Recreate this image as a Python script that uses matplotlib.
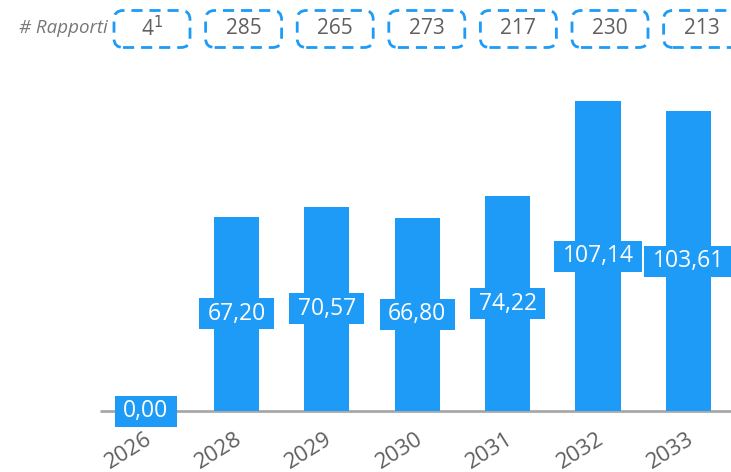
import numpy as np
import matplotlib.pyplot as plt
from matplotlib.patches import FancyBboxPatch, Rectangle

plt.rcParams['font.family'] = ['Open Sans', 'DejaVu Sans']

# values per year, in the same order as the bars
anni = ['2026', '2028', '2029', '2030', '2031', '2032', '2033']
valori = [0.00, 67.20, 70.57, 66.80, 74.22, 107.14, 103.61]
rapporti = ['4$^1$', '285', '265', '273', '217', '230', '213']

BLU = '#1d9bf6'
GRIGIO = '#5f5f5f'


def etichetta(v):
    return f'{v:.2f}'.replace('.', ',')


def main():
    fig = plt.figure(figsize=(7.31, 4.72), dpi=100)
    ax = fig.add_axes([0, 0, 1, 1])
    ax.axis('off')

    # pixel scale: 90.4 px between bars, 2.893 px per unit on y
    px_x = 90.4
    px_y = 2.893
    ax.set_xlim(-146 / px_x, (731 - 146) / px_x)
    ax.set_ylim(-61 / px_y, (472 - 61) / px_y)

    x = np.arange(len(anni))
    ax.bar(x, valori, width=0.5, color=BLU, zorder=2)
    ax.plot([-46 / px_x, 10], [0, 0], color='#a8a8a8', lw=2, zorder=1,
            solid_capstyle='butt')

    # value labels sitting in the middle of each bar, on a blue patch
    # a little wider than the text
    renderer = fig.canvas.get_renderer()
    for xi, v in zip(x, valori):
        t = ax.text(xi, v / 2, etichetta(v), ha='center', va='center',
                    color='white', fontsize=16.5, zorder=4)
        larg = t.get_window_extent(renderer).width + 17
        w = larg / px_x
        h = 31 / px_y
        ax.add_patch(Rectangle((xi - w / 2, v / 2 - h / 2), w, h,
                               fc=BLU, ec='none', zorder=3, clip_on=False))

    # year labels under the axis
    for xi, a in zip(x, anni):
        ax.text(xi - 0.02, -6.0, a, rotation=32, ha='right', va='top',
                rotation_mode='anchor', color=GRIGIO, fontsize=16)

    # dashed boxes with the number of reports
    yc = (472 - 29 - 61) / px_y
    h = 37 / px_y
    w = 76 / px_x
    for i, r in enumerate(rapporti):
        xc = (6 + 91.6 * i) / px_x
        box = FancyBboxPatch((xc - w / 2, yc - h / 2), w, h,
                             boxstyle='round,pad=0,rounding_size=0.1',
                             mutation_aspect=px_x / px_y,
                             fc='none', ec=BLU, lw=2, ls=(0, (4, 2.5)),
                             clip_on=False)
        ax.add_patch(box)
        ax.text(xc, yc, r, ha='center', va='center', color=GRIGIO,
                fontsize=15)

    ax.text((108 - 146) / px_x, yc + 0.3, '# Rapporti', ha='right',
            va='center', color='#777777', fontsize=13.5, style='italic')

    fig.savefig('out.png', dpi=100)


if __name__ == '__main__':
    main()
